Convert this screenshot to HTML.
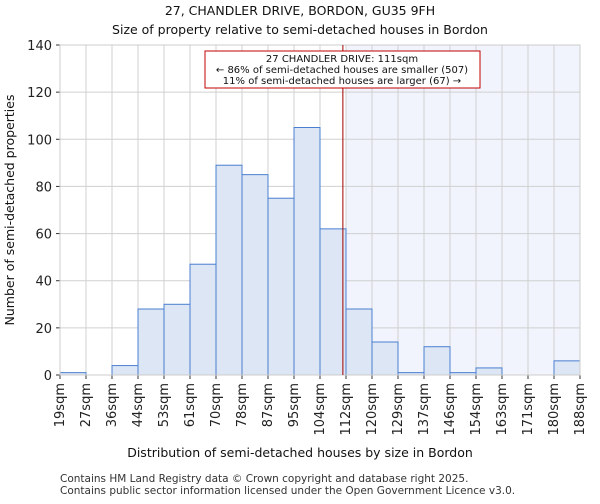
<!DOCTYPE html>
<html><head><meta charset="utf-8"><style>
body{margin:0;background:#fff;font-family:"DejaVu Sans","Liberation Sans",sans-serif;}
</style></head><body>
<svg id="c" width="600" height="500" xmlns="http://www.w3.org/2000/svg" font-family="DejaVu Sans, Liberation Sans, sans-serif"></svg>
<script>
const labels=["19sqm","27sqm","36sqm","44sqm","53sqm","61sqm","70sqm","78sqm","87sqm","95sqm","104sqm","112sqm","120sqm","129sqm","137sqm","146sqm","154sqm","163sqm","171sqm","180sqm","188sqm"];
const values=[1,0,4,28,30,47,89,85,75,105,62,28,14,1,12,1,3,0,0,6];
const yTicks=[0,20,40,60,80,100,120,140];
const propertyBinPos=10.88;
const svg=document.getElementById('c');
const NS='http://www.w3.org/2000/svg';
const X0=60,X1=580,Y0=375,Y1=45;
const bw=(X1-X0)/values.length;
const xs=i=>X0+i*bw;
const ys=v=>Y0-(v/140)*(Y0-Y1);
function el(t,a,txt){const e=document.createElementNS(NS,t);for(const k in a)e.setAttribute(k,a[k]);if(txt!=null)e.textContent=txt;svg.appendChild(e);return e;}
let e;
e=el('rect',{x:xs(11),y:Y1,width:X1-xs(11),height:Y0-Y1,fill:'#f1f4fd'});


for(let i=0;i<=values.length;i++){e=el('line',{x1:xs(i),x2:xs(i),y1:Y1,y2:Y0,stroke:'#d0d0d0'});

}
yTicks.forEach(t=>{e=el('line',{x1:X0,x2:X1,y1:ys(t),y2:ys(t),stroke:'#d0d0d0'});


e=el('text',{x:X0-8,y:ys(t)+5,'text-anchor':'end','font-size':13,fill:'#222'},t);


el('line',{x1:X0-4,x2:X0,y1:ys(t),y2:ys(t),stroke:'#333'});});
values.forEach((v,i)=>{e=el('rect',{x:xs(i),y:ys(v),width:bw,height:Y0-ys(v),fill:'#dce6f5',stroke:'#4a7fd0','stroke-width':1});

});
labels.forEach((l,i)=>{const x=xs(i);el('line',{x1:x,x2:x,y1:Y0,y2:Y0+4,stroke:'#333'});
e=el('text',{x:x+4,y:Y0+8,'text-anchor':'end','font-size':13,fill:'#222',transform:`rotate(-90 ${x+4} ${Y0+8})`},l);

});
e=el('rect',{x:X0,y:Y1,width:X1-X0,height:Y0-Y1,fill:'none',stroke:'#ccc'});


const lx=X0+propertyBinPos*bw;
e=el('line',{x1:lx,x2:lx,y1:Y1,y2:Y0,stroke:'#a00000','stroke-width':1});


e=el('rect',{x:205,y:51,width:275,height:37,fill:'#fff',stroke:'#c00000'});


[["27 CHANDLER DRIVE: 111sqm",62],["← 86% of semi-detached houses are smaller (507)",73],["11% of semi-detached houses are larger (67) →",84]].forEach(a=>{e=el('text',{x:342,y:a[1],'text-anchor':'middle','font-size':10,fill:'#111'},a[0]);

});
e=el('text',{x:300,y:15,'text-anchor':'middle','font-size':12.5,fill:'#111'},'27, CHANDLER DRIVE, BORDON, GU35 9FH');


e=el('text',{x:300,y:34,'text-anchor':'middle','font-size':12.5,fill:'#111'},'Size of property relative to semi-detached houses in Bordon');


e=el('text',{x:300,y:457,'text-anchor':'middle','font-size':12.5,fill:'#111'},'Distribution of semi-detached houses by size in Bordon');


e=el('text',{x:14,y:210,'text-anchor':'middle','font-size':12.5,fill:'#111',transform:'rotate(-90 14 210)'},'Number of semi-detached properties');


e=el('text',{x:60,y:482,'font-size':10.5,fill:'#333'},'Contains HM Land Registry data © Crown copyright and database right 2025.');


e=el('text',{x:60,y:494,'font-size':10.5,fill:'#333'},'Contains public sector information licensed under the Open Government Licence v3.0.');


</script>
</body></html>
